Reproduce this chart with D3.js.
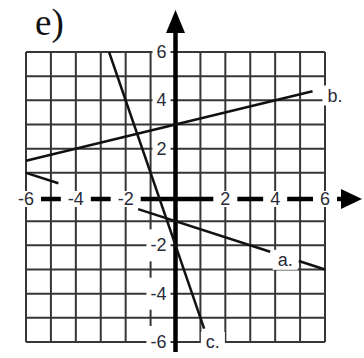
<!DOCTYPE html>
<html>
<head>
<meta charset="utf-8">
<script src="https://cdn.jsdelivr.net/npm/d3@7"></script>
<style>
  body { margin: 0; background: #fff; }
  svg { display: block; }
</style>
</head>
<body>
<svg width="364" height="358"></svg>
<script>
// Tick labels on each axis
var xTicks = [-6, -4, -2, 2, 4, 6];
var yTicks = [6, 4, 2, -2, -4, -6];
var gridValues = [-6, -5, -4, -3, -2, -1, 1, 2, 3, 4, 5, 6];

// Lines y = m*x + b
var lineNames = ['a.', 'b.', 'c.'];
var slopes = [-1/3, 1/4, -3];
var intercepts = [-1, 3, -2];
// visible x ranges of each line
var segments = [
  [[-6, -4.7], [-1.5, 3.8], [4.95, 6]],
  [[-6, 5.5]],
  [[-8/3, 1.15]]
];
// where the line names sit
var labelX = [4.4, 6.4, 1.5];
var labelY = [-2.6, 4.2, -6];

var svg = d3.select('svg');
var x = d3.scaleLinear().domain([-6, 6]).range([26, 325]);
var y = d3.scaleLinear().domain([6, -6]).range([52, 342]);
var axisY = y(0) + 2;

// title
svg.append('text')
    .attr('x', 35).attr('y', 35)
    .style('font-family', '"Liberation Serif", serif')
    .style('font-size', '37px')
    .attr('fill', '#111')
    .text('e)');

// grid
var grid = svg.append('g').attr('stroke', '#363636').attr('stroke-width', 2);
grid.selectAll('.v').data(gridValues).enter().append('line')
    .attr('x1', d => x(d)).attr('x2', d => x(d))
    .attr('y1', y(6)).attr('y2', y(-6));
grid.selectAll('.h').data(gridValues).enter().append('line')
    .attr('x1', x(-6)).attr('x2', x(6))
    .attr('y1', d => y(d)).attr('y2', d => y(d));

// axes
var axes = svg.append('g');
axes.append('line')
    .attr('x1', 14).attr('x2', 345)
    .attr('y1', axisY).attr('y2', axisY)
    .attr('stroke', '#000').attr('stroke-width', 4.5);
axes.append('path')
    .attr('d', 'M341,' + (axisY - 10) + 'L362,' + axisY + 'L341,' + (axisY + 10) + 'Z')
    .attr('fill', '#000');
axes.append('line')
    .attr('x1', x(0)).attr('x2', x(0))
    .attr('y1', 30).attr('y2', 352)
    .attr('stroke', '#000').attr('stroke-width', 4.5);
axes.append('path')
    .attr('d', 'M' + (x(0) - 9.5) + ',33L' + x(0) + ',10L' + (x(0) + 9.5) + ',33Z')
    .attr('fill', '#000');

var font = '"Liberation Sans", Arial, sans-serif';
var textColor = '#2a2b38';

var boxes = svg.append('g');
var lines = svg.append('g');
var labels = svg.append('g');

// label with a white box behind it
function boxedText(px, py, txt, anchor, padX, padY) {
  var t = labels.append('text')
      .attr('x', px).attr('y', py)
      .attr('text-anchor', anchor)
      .attr('dominant-baseline', 'central')
      .style('font-family', font)
      .style('font-size', '18px')
      .attr('fill', textColor)
      .text(txt);
  var bb = t.node().getBBox();
  boxes.append('rect')
      .attr('x', bb.x - padX).attr('y', py - padY)
      .attr('width', bb.width + 2 * padX).attr('height', 2 * padY)
      .attr('fill', '#fff');
}

xTicks.forEach(function(d) {
  boxedText(x(d), axisY, String(d), 'middle', 7, 8);
});
yTicks.forEach(function(d) {
  boxedText(x(0) - 9, y(d), String(d), 'end', 4, 16);
});
lineNames.forEach(function(name, i) {
  boxedText(x(labelX[i]), y(labelY[i]), name, 'middle', 5, 10);
});

// the three lines
var lineGen = d3.line().x(d => x(d[0])).y(d => y(d[1]));
lineNames.forEach(function(name, i) {
  segments[i].forEach(function(seg) {
    var pts = seg.map(v => [v, slopes[i] * v + intercepts[i]]);
    lines.append('path')
        .attr('d', lineGen(pts))
        .attr('fill', 'none')
        .attr('stroke', '#111')
        .attr('stroke-width', 2.5);
  });
});
</script>
</body>
</html>
